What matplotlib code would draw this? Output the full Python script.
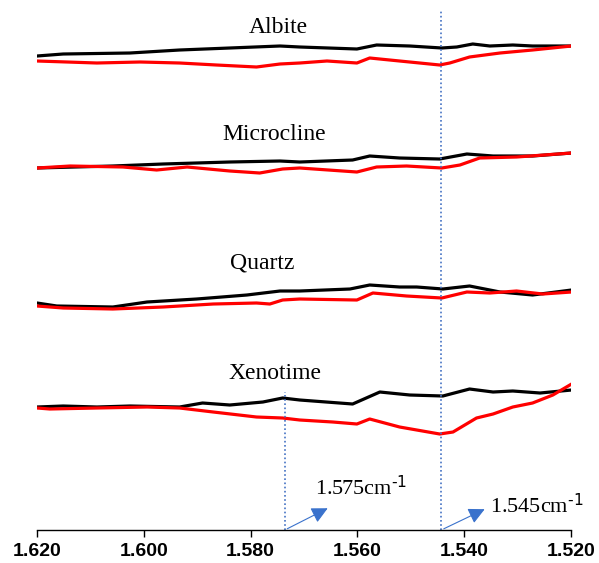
import matplotlib.pyplot as plt
import numpy as np

# wavenumber positions (x) and intensities (a.u., stacked with offsets)
albite_x_black = [1.6200, 1.6151, 1.6026, 1.5933, 1.5839, 1.5745, 1.5708, 1.5601, 1.5564, 1.5502, 1.5442, 1.5414, 1.5384, 1.5352, 1.5309, 1.5272, 1.5199]
albite_black = [4.74, 4.76, 4.77, 4.80, 4.82, 4.84, 4.83, 4.81, 4.85, 4.84, 4.82, 4.83, 4.86, 4.84, 4.85, 4.84, 4.84]
albite_x_red = [1.6200, 1.6088, 1.6007, 1.5933, 1.5864, 1.5789, 1.5745, 1.5708, 1.5657, 1.5601, 1.5577, 1.5521, 1.5446, 1.5427, 1.5390, 1.5333, 1.5272, 1.5199]
albite_red = [4.69, 4.67, 4.68, 4.67, 4.65, 4.63, 4.66, 4.67, 4.69, 4.67, 4.72, 4.69, 4.65, 4.67, 4.73, 4.77, 4.80, 4.84]

micro_x_black = [1.6200, 1.6058, 1.5964, 1.5839, 1.5745, 1.5708, 1.5609, 1.5577, 1.5521, 1.5446, 1.5395, 1.5346, 1.5272, 1.5199]
micro_black = [3.62, 3.64, 3.66, 3.68, 3.69, 3.68, 3.70, 3.74, 3.72, 3.71, 3.76, 3.74, 3.74, 3.77]
micro_x_red = [1.6200, 1.6138, 1.6039, 1.5976, 1.5919, 1.5839, 1.5783, 1.5740, 1.5708, 1.5601, 1.5564, 1.5508, 1.5442, 1.5408, 1.5371, 1.5302, 1.5199]
micro_red = [3.62, 3.64, 3.63, 3.60, 3.63, 3.59, 3.57, 3.61, 3.62, 3.58, 3.63, 3.64, 3.62, 3.65, 3.72, 3.73, 3.77]

quartz_x_black = [1.6200, 1.6163, 1.6058, 1.5994, 1.5901, 1.5807, 1.5745, 1.5708, 1.5614, 1.5577, 1.5521, 1.5489, 1.5440, 1.5390, 1.5333, 1.5272, 1.5199]
quartz_black = [2.27, 2.24, 2.23, 2.28, 2.31, 2.35, 2.39, 2.39, 2.41, 2.45, 2.43, 2.43, 2.41, 2.44, 2.38, 2.35, 2.40]
quartz_x_red = [1.6200, 1.6151, 1.6058, 1.5964, 1.5870, 1.5789, 1.5764, 1.5740, 1.5708, 1.5601, 1.5571, 1.5508, 1.5442, 1.5395, 1.5352, 1.5302, 1.5253, 1.5199]
quartz_red = [2.24, 2.22, 2.21, 2.23, 2.26, 2.27, 2.26, 2.30, 2.31, 2.30, 2.37, 2.34, 2.32, 2.38, 2.37, 2.39, 2.36, 2.38]

xeno_x_black = [1.6200, 1.6151, 1.6088, 1.6026, 1.5933, 1.5890, 1.5839, 1.5777, 1.5740, 1.5708, 1.5609, 1.5558, 1.5502, 1.5440, 1.5390, 1.5346, 1.5309, 1.5258, 1.5199]
xeno_black = [1.23, 1.24, 1.23, 1.24, 1.23, 1.27, 1.25, 1.28, 1.32, 1.30, 1.26, 1.38, 1.35, 1.34, 1.41, 1.38, 1.39, 1.37, 1.40]
xeno_x_red = [1.6200, 1.6176, 1.6088, 1.5994, 1.5933, 1.5870, 1.5789, 1.5740, 1.5708, 1.5646, 1.5601, 1.5577, 1.5521, 1.5446, 1.5421, 1.5377, 1.5346, 1.5309, 1.5272, 1.5234, 1.5199]
xeno_red = [1.22, 1.21, 1.22, 1.23, 1.22, 1.18, 1.13, 1.12, 1.10, 1.08, 1.06, 1.11, 1.03, 0.96, 0.98, 1.12, 1.16, 1.23, 1.27, 1.35, 1.46]

minerals = ["Albite", "Microcline", "Quartz", "Xenotime"]
label_x = [1.5749, 1.5756, 1.5779, 1.5754]
label_y = [5.03, 3.96, 2.67, 1.57]

peak_pos = [1.5736, 1.5443]
peak_top = [1.38, 5.20]
peak_labels = [r"1.575cm$^{\text{-1}}$", r"1.545cm$^{\text{-1}}$"]
xticks = [1.620, 1.600, 1.580, 1.560, 1.540, 1.520]

plt.rcParams["mathtext.default"] = "regular"

fig = plt.figure(figsize=(5.99, 5.63), dpi=100)
ax = fig.add_axes([0.0618, 0.0586, 0.8915, 0.9414])

traces = [
    (albite_x_black, albite_black, albite_x_red, albite_red),
    (micro_x_black, micro_black, micro_x_red, micro_red),
    (quartz_x_black, quartz_black, quartz_x_red, quartz_red),
    (xeno_x_black, xeno_black, xeno_x_red, xeno_red),
]
for xb, yb, xr, yr in traces:
    ax.plot(xb, yb, color="black", lw=2.3, solid_joinstyle="round", solid_capstyle="round")
    ax.plot(xr, yr, color="#ff0000", lw=2.3, solid_joinstyle="round", solid_capstyle="round")

for name, lx, ly in zip(minerals, label_x, label_y):
    ax.text(lx, ly, name, ha="center", va="center", fontsize=17, family="Liberation Serif")

# dotted markers for the two bands
for xp, top in zip(peak_pos, peak_top):
    ax.plot([xp, xp], [0, top], color="#4472c4", lw=1.2, ls=(0, (1, 1.5)))

arrow_tip = [(1.5651, 0.23), (1.5357, 0.22)]
text_pos = [(1.5679, 0.43), (1.5352, 0.25)]
for xp, tip, tp, lab in zip(peak_pos, arrow_tip, text_pos, peak_labels):
    ax.annotate("", xy=tip, xytext=(xp, 0),
                arrowprops=dict(arrowstyle="-|>,head_length=0.7,head_width=0.35",
                                color="#3a72cc", lw=0.8, mutation_scale=14))
    ax.text(tp[0], tp[1], lab, ha="left", va="center", fontsize=16, family="Liberation Serif")

ax.set_xlim(1.620, 1.520)
ax.set_ylim(0, 5.30)
ax.set_xticks(xticks)
ax.set_xticklabels([f"{t:.3f}" for t in xticks], fontsize=14, fontweight="bold", family="Liberation Sans")
ax.set_yticks([])
for s in ["left", "right", "top"]:
    ax.spines[s].set_visible(False)
ax.spines["bottom"].set_linewidth(1.0)
ax.tick_params(axis="x", length=5, width=1.0, pad=4)

fig.savefig("out.png", dpi=100)
